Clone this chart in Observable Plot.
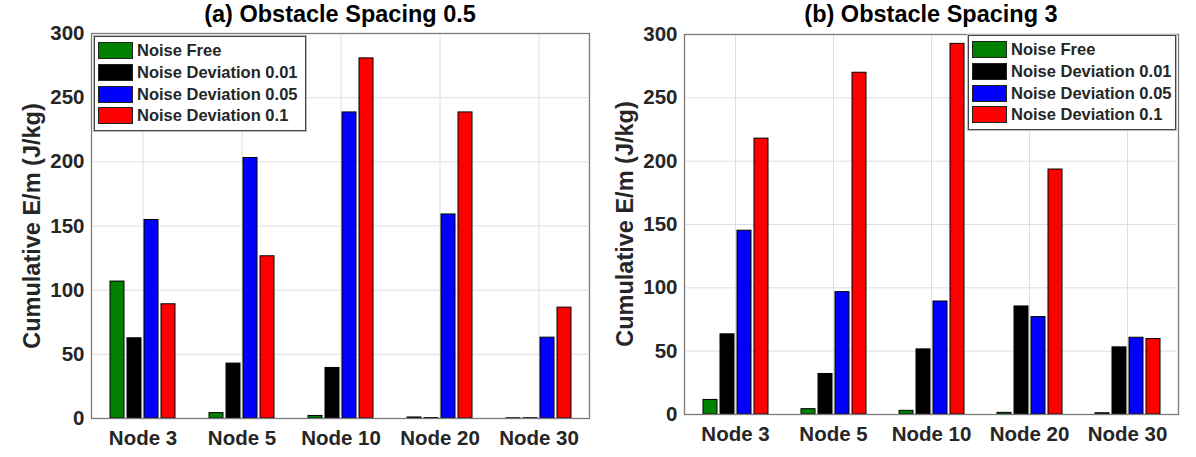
<!DOCTYPE html>
<html><head><meta charset="utf-8">
<script src="https://cdn.jsdelivr.net/npm/d3@7"></script>
<script src="https://cdn.jsdelivr.net/npm/@observablehq/plot@0.6"></script>
<style>
body{margin:0;background:#fff;font-family:"Liberation Sans",Arial,sans-serif;}
#root{position:relative;width:1196px;height:457px;overflow:hidden;background:#fff;}
.panel{position:absolute;top:0;width:598px;height:457px;}
.panel svg{position:absolute;top:0;left:0;}
.title{position:absolute;top:1px;font-weight:bold;font-size:23.5px;color:#000;white-space:nowrap;transform:translateX(-50%);line-height:26px;}
.ylab{position:absolute;font-weight:bold;font-size:23.5px;color:#262626;white-space:nowrap;transform:translate(-50%,-50%) rotate(-90deg);}
.legend{position:absolute;background:#fff;border:1px solid #444;box-shadow:0 0 0 1px #bbb;box-sizing:border-box;padding:3px 3px;}
.row{display:flex;align-items:center;height:21.7px;}
.sw{width:33px;height:15px;border:1px solid #222;margin-right:4px;flex:none;}
.lt{font-weight:bold;font-size:16.5px;color:#262626;white-space:nowrap;}
</style>
</head><body>
<div id="root"></div>
<script>
const nodes = ["Node 3", "Node 5", "Node 10", "Node 20", "Node 30"];
const series = ["Noise Free", "Noise Deviation 0.01", "Noise Deviation 0.05", "Noise Deviation 0.1"];
const colors = ["#008000", "#000000", "#0000ff", "#ff0000"];
const yTicks = [0, 50, 100, 150, 200, 250, 300];
const titles = ["(a) Obstacle Spacing 0.5", "(b) Obstacle Spacing 3"];
const yLabel = "Cumulative E/m (J/kg)";

// (a) Obstacle spacing 0.5 — values per series across nodes
const sp05NoiseFree = [106.7, 4.2, 2.0, 0.8, 0.2];
const sp05Dev001    = [62.5, 42.8, 39.4, 0.3, 0.2];
const sp05Dev005    = [154.7, 203.0, 238.5, 159.0, 63.0];
const sp05Dev01     = [89.0, 126.4, 280.6, 238.5, 86.4];

// (b) Obstacle spacing 3
const sp3NoiseFree = [11.5, 4.2, 2.9, 1.3, 1.0];
const sp3Dev001    = [63.3, 32.0, 51.4, 85.3, 53.0];
const sp3Dev005    = [145.1, 96.6, 89.2, 76.9, 60.6];
const sp3Dev01     = [217.8, 269.8, 292.6, 193.4, 59.6];

function table(seriesValues) {
  const rows = [];
  seriesValues.forEach((vals, si) => {
    vals.forEach((v, ni) => rows.push({node: nodes[ni], series: series[si], value: v}));
  });
  return rows;
}

const panels = [
  {data: table([sp05NoiseFree, sp05Dev001, sp05Dev005, sp05Dev01]), title: titles[0],
   left: 0, mL: 91, mR: 9, mT: 33, mB: 39, legLeft: 94, legTop: 36, legW: 212, ylabX: 32},
  {data: table([sp3NoiseFree, sp3Dev001, sp3Dev005, sp3Dev01]), title: titles[1],
   left: 598, mL: 86, mR: 18, mT: 34, mB: 43, legLeft: 370, legTop: 35, legW: 208, ylabX: 27}
];

const root = document.getElementById("root");
const W = 598, H = 457;
const font = '"Liberation Sans", Arial, sans-serif';

panels.forEach(p => {
  const div = document.createElement("div");
  div.className = "panel";
  div.style.left = p.left + "px";
  root.appendChild(div);

  const chart = Plot.plot({
    width: W, height: H,
    marginLeft: p.mL, marginRight: p.mR, marginTop: p.mT, marginBottom: p.mB,
    style: {fontFamily: font, fontSize: "20.5px", fontWeight: "bold", color: "#262626", background: "transparent", overflow: "visible"},
    fx: {domain: nodes, padding: 0, label: null},
    x: {domain: series, paddingInner: 0.2, paddingOuter: 0.867, axis: null},
    y: {domain: [0, 300], label: null},
    color: {domain: series, range: colors},
    marks: [
      Plot.gridY(yTicks, {stroke: "#dedede", strokeOpacity: 1}),
      Plot.gridFx({stroke: "#dedede", strokeOpacity: 1}),
      Plot.axisY(yTicks, {tickSize: 0, tickPadding: 9, label: null}),
      Plot.axisFx({anchor: "bottom", tickSize: 0, tickPadding: 12, label: null}),
      Plot.barY(p.data, {fx: "node", x: "series", y: "value", fill: "series", stroke: "#000", strokeWidth: 1})
    ]
  });
  div.appendChild(chart);

  const frame = Plot.plot({
    width: W, height: H,
    marginLeft: p.mL, marginRight: p.mR, marginTop: p.mT, marginBottom: p.mB,
    style: {background: "transparent"},
    x: {axis: null}, y: {axis: null},
    marks: [Plot.frame({stroke: "#7a7a7a", strokeWidth: 1.3})]
  });
  div.appendChild(frame);

  const t = document.createElement("div");
  t.className = "title";
  t.textContent = p.title;
  t.style.left = (p.mL + (W - p.mL - p.mR) / 2) + "px";
  div.appendChild(t);

  const yl = document.createElement("div");
  yl.className = "ylab";
  yl.textContent = yLabel;
  yl.style.left = p.ylabX + "px";
  yl.style.top = (p.mT + (H - p.mT - p.mB) / 2) + "px";
  div.appendChild(yl);

  const leg = document.createElement("div");
  leg.className = "legend";
  leg.style.left = p.legLeft + "px";
  leg.style.top = p.legTop + "px";
  leg.style.width = p.legW + "px";
  series.forEach((s, i) => {
    const r = document.createElement("div");
    r.className = "row";
    const sw = document.createElement("div");
    sw.className = "sw";
    sw.style.background = colors[i];
    const lt = document.createElement("span");
    lt.className = "lt";
    lt.textContent = s;
    r.appendChild(sw); r.appendChild(lt);
    leg.appendChild(r);
  });
  div.appendChild(leg);
});
</script>
</body></html>
